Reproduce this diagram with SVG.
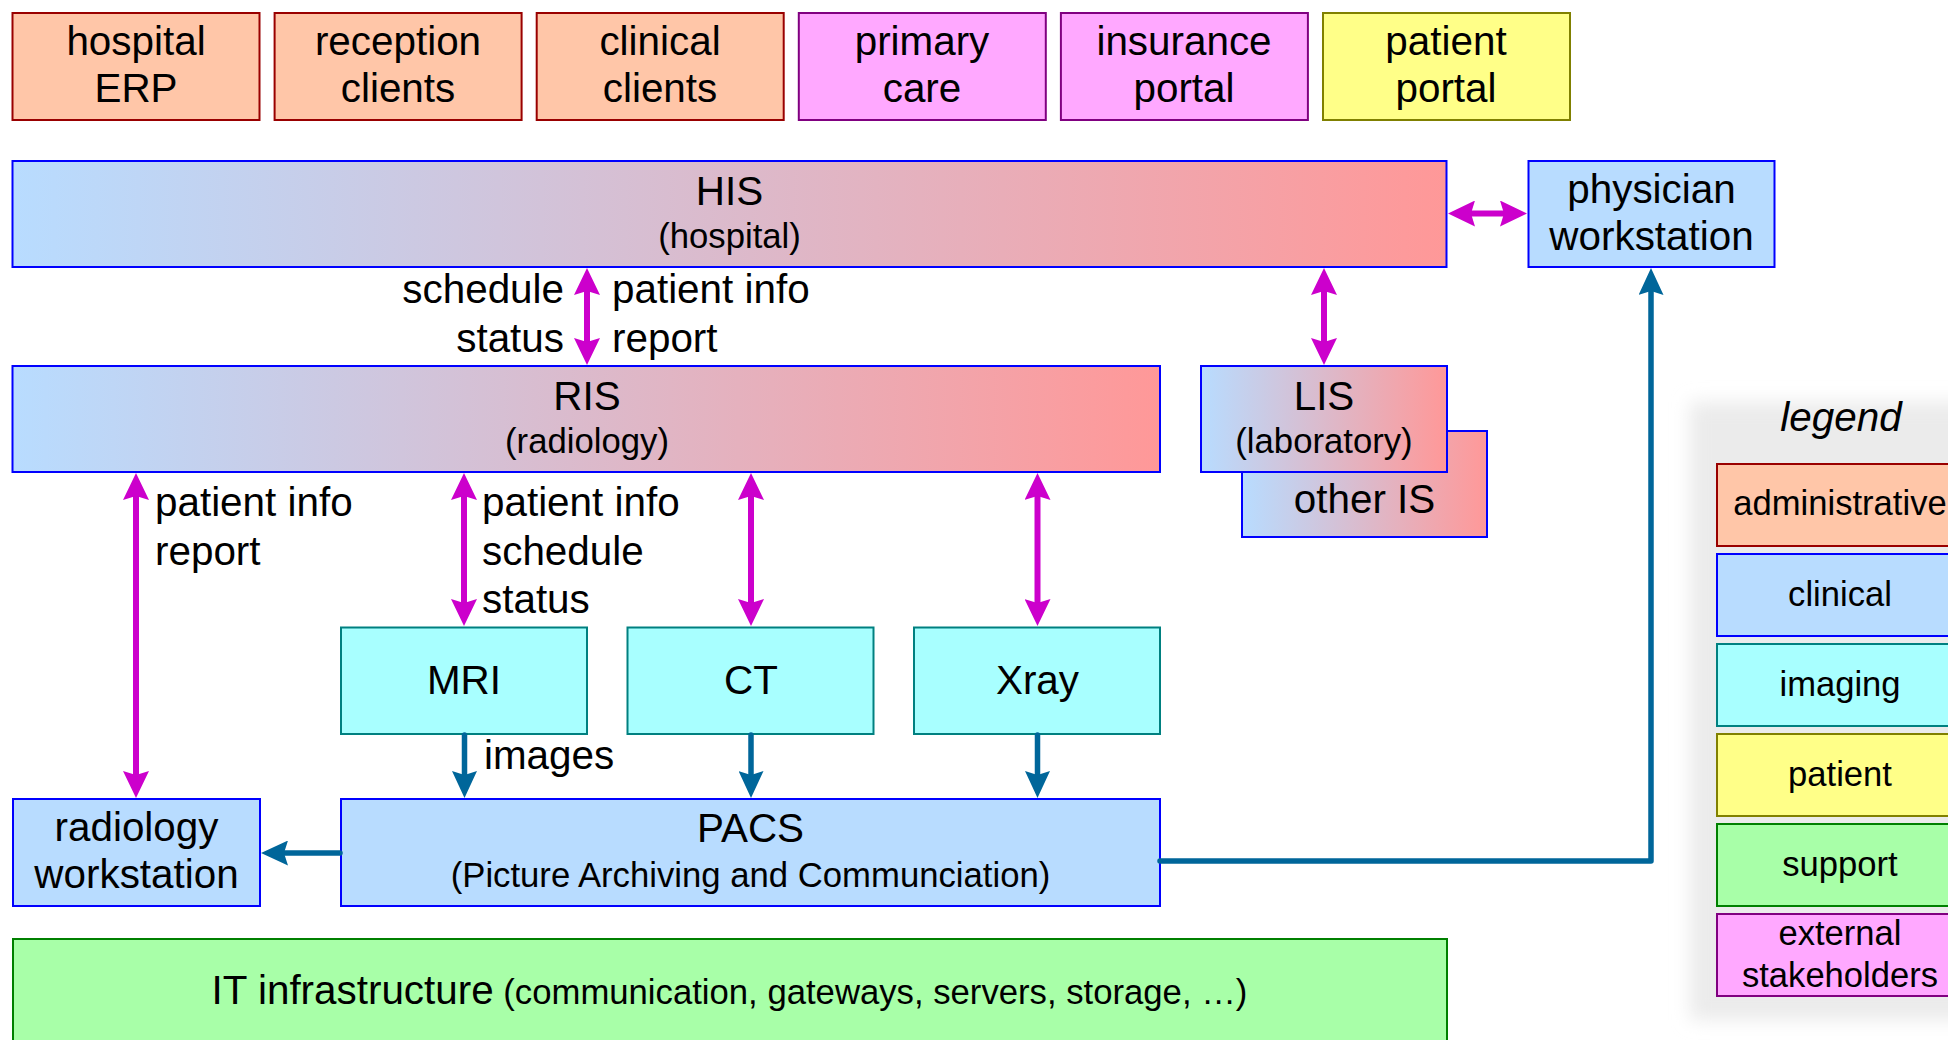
<svg xmlns="http://www.w3.org/2000/svg" width="1948" height="1040" viewBox="0 0 1948 1040">
<style>
text{font-family:"Liberation Sans",Arial,sans-serif;fill:#000}
.t{font-size:40.4px;text-anchor:middle}
.s{font-size:34.7px}
.lg{font-size:34.6px;text-anchor:middle}
.l{font-size:40.4px}
.r{text-anchor:end}
.adm{fill:#ffc6a8;stroke:#990000;stroke-width:2}
.cli{fill:#b8dcff;stroke:#0000ff;stroke-width:2}
.grd{fill:url(#g);stroke:#0000ff;stroke-width:2}
.img{fill:#a8ffff;stroke:#008080;stroke-width:2}
.pat{fill:#ffff88;stroke:#808000;stroke-width:2}
.sup{fill:#a8ffa8;stroke:#008000;stroke-width:2}
.ext{fill:#ffa8ff;stroke:#800080;stroke-width:2}
.m{stroke:#cc00cc;stroke-width:6;fill:none;marker-start:url(#mh);marker-end:url(#mh)}
.b{stroke:#00669a;stroke-width:5.5;fill:none;stroke-linecap:round;stroke-linejoin:round;marker-end:url(#bh)}
</style>
<defs>
<linearGradient id="g" x1="0" y1="0" x2="1" y2="0">
<stop offset="0" stop-color="#b8dcff"/>
<stop offset="1" stop-color="#ff9898"/>
</linearGradient>
<filter id="blur" x="-20%" y="-20%" width="140%" height="140%"><feGaussianBlur stdDeviation="9"/></filter>
<marker id="mh" markerUnits="userSpaceOnUse" markerWidth="27" markerHeight="26" refX="4" refY="13" orient="auto-start-reverse" viewBox="0 0 27 26"><path d="M0,0 L27,13 L0,26 L4,13 Z" fill="#cc00cc"/></marker>
<marker id="bh" markerUnits="userSpaceOnUse" markerWidth="27" markerHeight="25" refX="4" refY="12.5" orient="auto" viewBox="0 0 27 25"><path d="M0,0 L27,12.5 L0,25 L4,12.5 Z" fill="#00669a"/></marker>
</defs>
<rect width="1948" height="1040" fill="#ffffff"/>

<!-- legend panel -->
<g id="legend">
<rect x="1690" y="402" width="290" height="618" fill="#ebebeb" filter="url(#blur)"/>
<text x="1841" y="431" class="l" text-anchor="middle" font-style="italic">legend</text>
<rect x="1717" y="464" width="247" height="82" class="adm"/><text x="1840" y="515" class="lg">administrative</text>
<rect x="1717" y="554" width="247" height="82" class="cli"/><text x="1840" y="606" class="lg">clinical</text>
<rect x="1717" y="644" width="247" height="82" class="img"/><text x="1840" y="696" class="lg">imaging</text>
<rect x="1717" y="734" width="247" height="82" class="pat"/><text x="1840" y="786" class="lg">patient</text>
<rect x="1717" y="824" width="247" height="82" class="sup"/><text x="1840" y="876" class="lg">support</text>
<rect x="1717" y="914" width="247" height="82" class="ext"/><text x="1840" y="945" class="lg">external</text><text x="1840" y="987" class="lg">stakeholders</text>
</g>

<!-- top row -->
<g id="hospital-erp"><rect x="12.5" y="13" width="247" height="107" class="adm"/><text x="136" y="55" class="t">hospital</text><text x="136" y="102" class="t">ERP</text></g>
<g id="reception-clients"><rect x="274.6" y="13" width="247" height="107" class="adm"/><text x="398" y="55" class="t">reception</text><text x="398" y="102" class="t">clients</text></g>
<g id="clinical-clients"><rect x="536.7" y="13" width="247" height="107" class="adm"/><text x="660" y="55" class="t">clinical</text><text x="660" y="102" class="t">clients</text></g>
<g id="primary-care"><rect x="798.8" y="13" width="247" height="107" class="ext"/><text x="922" y="55" class="t">primary</text><text x="922" y="102" class="t">care</text></g>
<g id="insurance-portal"><rect x="1060.9" y="13" width="247" height="107" class="ext"/><text x="1184" y="55" class="t">insurance</text><text x="1184" y="102" class="t">portal</text></g>
<g id="patient-portal"><rect x="1323" y="13" width="247" height="107" class="pat"/><text x="1446" y="55" class="t">patient</text><text x="1446" y="102" class="t">portal</text></g>

<g id="his"><rect x="12.5" y="161" width="1434" height="106" class="grd"/><text x="729.5" y="205" class="t">HIS</text><text x="729.5" y="248" class="t s">(hospital)</text></g>
<g id="physician-workstation"><rect x="1528.5" y="161" width="246" height="106" class="cli"/><text x="1651.5" y="203" class="t">physician</text><text x="1651.5" y="250" class="t">workstation</text></g>

<g id="other-is"><rect x="1242" y="431" width="245" height="106" class="grd"/><text x="1364.5" y="513" class="t">other IS</text></g>
<g id="lis"><rect x="1201" y="366" width="246" height="106" class="grd"/><text x="1324" y="410" class="t">LIS</text><text x="1324" y="453" class="t s">(laboratory)</text></g>
<g id="ris"><rect x="12.5" y="366" width="1147.5" height="106" class="grd"/><text x="587" y="410" class="t">RIS</text><text x="587" y="453" class="t s">(radiology)</text></g>

<g id="mri"><rect x="341" y="627.5" width="246" height="106.5" class="img"/><text x="464" y="694" class="t">MRI</text></g>
<g id="ct"><rect x="627.5" y="627.5" width="246" height="106.5" class="img"/><text x="751" y="694" class="t">CT</text></g>
<g id="xray"><rect x="914" y="627.5" width="246" height="106.5" class="img"/><text x="1037.5" y="694" class="t">Xray</text></g>

<g id="radiology-workstation"><rect x="13" y="799" width="247" height="107" class="cli"/><text x="136.5" y="841" class="t">radiology</text><text x="136.5" y="888" class="t">workstation</text></g>
<g id="pacs"><rect x="341" y="799" width="819" height="107" class="cli"/><text x="750.5" y="842" class="t">PACS</text><text x="750.5" y="887" class="t s">(Picture Archiving and Communciation)</text></g>

<g id="it-infrastructure"><rect x="13" y="939" width="1434" height="120" class="sup"/><text x="729.5" y="1004" class="t">IT infrastructure<tspan class="s"> (communication, gateways, servers, storage, …)</tspan></text></g>

<g id="connectors">
<path class="m" d="M587,291 V342"/>
<path class="m" d="M1324,291 V342"/>
<path class="m" d="M1471,213.5 H1504"/>
<path class="m" d="M136,496 V775"/>
<path class="m" d="M464,496 V603"/>
<path class="m" d="M751,496 V603"/>
<path class="m" d="M1037.5,496 V603"/>
<path class="b" d="M464.5,735 V775"/>
<path class="b" d="M751,735 V775"/>
<path class="b" d="M1037.5,735 V775"/>
<path class="b" d="M340,853 H284"/>
<path class="b" d="M1160,861 H1651 V291"/>
</g>

<g id="labels">
<text x="564" y="303" class="l r">schedule</text>
<text x="564" y="352" class="l r">status</text>
<text x="612" y="303" class="l">patient info</text>
<text x="612" y="352" class="l">report</text>
<text x="155" y="516" class="l">patient info</text>
<text x="155" y="565" class="l">report</text>
<text x="482" y="516" class="l">patient info</text>
<text x="482" y="565" class="l">schedule</text>
<text x="482" y="613" class="l">status</text>
<text x="484" y="769" class="l">images</text>
</g>
</svg>
